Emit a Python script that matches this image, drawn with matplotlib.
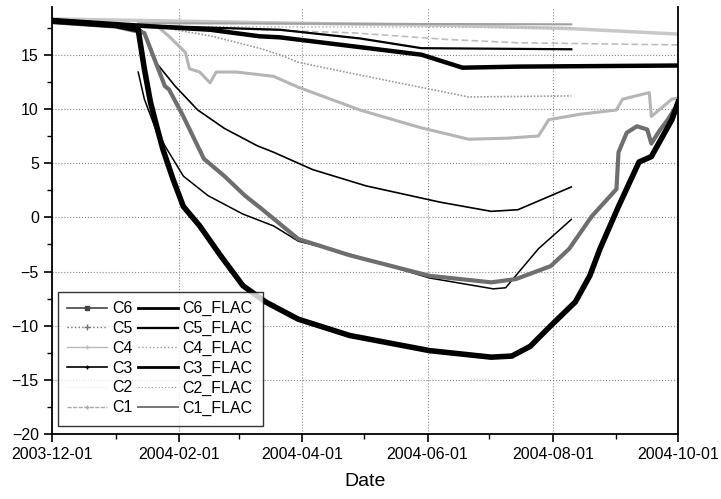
import numpy as np
import pandas as pd
import matplotlib
matplotlib.use("Agg")
import matplotlib.pyplot as plt
import matplotlib.dates as mdates
from matplotlib.lines import Line2D

plt.rcParams["font.family"] = ["Liberation Sans", "DejaVu Sans"]

# measured series (run to 2004-10-01)
c3_dates = ["2003-12-01", "2004-01-01", "2004-01-12", "2004-01-15", "2004-01-18",
            "2004-01-21", "2004-01-24", "2004-01-29", "2004-02-03", "2004-02-11",
            "2004-02-21", "2004-03-03", "2004-03-14", "2004-03-30", "2004-04-24",
            "2004-06-02", "2004-07-02", "2004-07-12", "2004-07-21", "2004-07-31",
            "2004-08-12", "2004-08-19", "2004-08-24", "2004-09-02", "2004-09-12",
            "2004-09-18", "2004-09-28", "2004-10-01"]
c3_vals = [18.1, 17.7, 17.3, 13.7, 10.6, 8.4, 6.3, 3.5, 1.0, -0.8,
           -3.5, -6.3, -7.8, -9.4, -10.9, -12.3, -12.9, -12.8, -11.9, -10.0,
           -7.8, -5.4, -2.9, 1.0, 5.1, 5.6, 9.0, 10.6]

c6_dates = ["2003-12-01", "2004-01-01", "2004-01-15", "2004-01-25", "2004-01-27",
            "2004-02-03", "2004-02-13", "2004-02-23", "2004-03-04", "2004-03-12",
            "2004-03-30", "2004-04-24", "2004-06-02", "2004-07-02", "2004-07-14",
            "2004-07-31", "2004-08-09", "2004-08-20", "2004-09-01", "2004-09-02",
            "2004-09-06", "2004-09-11", "2004-09-16", "2004-09-18", "2004-09-22",
            "2004-09-26", "2004-10-01"]
c6_vals = [18.0, 17.6, 17.0, 12.1, 11.8, 9.3, 5.4, 3.8, 2.0, 0.8,
           -2.0, -3.5, -5.4, -6.0, -5.7, -4.5, -2.9, 0.1, 2.6, 6.0,
           7.8, 8.4, 8.1, 6.8, 8.0, 9.0, 10.5]

c4_dates = ["2003-12-01", "2004-01-01", "2004-01-22", "2004-01-27", "2004-02-04",
            "2004-02-06", "2004-02-11", "2004-02-16", "2004-02-19", "2004-02-29",
            "2004-03-18", "2004-03-30", "2004-04-29", "2004-05-28", "2004-06-21",
            "2004-07-10", "2004-07-25", "2004-07-30", "2004-08-14", "2004-09-01",
            "2004-09-04", "2004-09-17", "2004-09-18", "2004-09-28", "2004-10-01"]
c4_vals = [18.0, 17.7, 17.5, 16.7, 15.2, 13.7, 13.4, 12.4, 13.4, 13.4,
           13.0, 12.0, 9.9, 8.3, 7.2, 7.3, 7.5, 9.0, 9.5, 9.9,
           10.9, 11.5, 9.3, 10.9, 11.0]

c5_dates = ["2003-12-01", "2004-01-11", "2004-02-16", "2004-03-11", "2004-03-21",
            "2004-05-29", "2004-06-18", "2004-07-15", "2004-10-01"]
c5_vals = [18.2, 17.7, 17.3, 16.7, 16.6, 15.0, 13.8, 13.9, 14.0]

c1_dates = ["2003-12-01", "2004-02-11", "2004-04-27", "2004-06-11", "2004-07-15", "2004-10-01"]
c1_vals = [18.0, 17.5, 17.0, 16.4, 16.1, 15.9]

c2_dates = ["2003-12-01", "2004-03-30", "2004-06-11", "2004-08-10", "2004-10-01"]
c2_vals = [18.3, 17.9, 17.7, 17.4, 16.9]

# FLAC series (end 2004-08-10)
c6f_dates = ["2004-01-12", "2004-01-15", "2004-01-20", "2004-01-25", "2004-02-03",
             "2004-02-15", "2004-03-03", "2004-03-18", "2004-03-30", "2004-04-24",
             "2004-06-02", "2004-07-03", "2004-07-09", "2004-07-25", "2004-08-10"]
c6f_vals = [13.4, 10.9, 8.4, 6.6, 3.8, 2.0, 0.3, -0.8, -2.2, -3.4,
            -5.6, -6.6, -6.5, -2.9, -0.2]

c3f_dates = ["2004-01-12", "2004-01-15", "2004-01-21", "2004-01-30", "2004-02-10",
             "2004-02-23", "2004-03-10", "2004-03-18", "2004-04-06", "2004-05-02",
             "2004-06-07", "2004-07-02", "2004-07-15", "2004-08-10"]
c3f_vals = [17.5, 17.0, 14.2, 12.1, 9.9, 8.2, 6.6, 6.0, 4.4, 2.9,
            1.4, 0.55, 0.7, 2.8]

c4f_dates = ["2004-01-30", "2004-02-17", "2004-03-11", "2004-03-21", "2004-03-30",
             "2004-04-27", "2004-06-21", "2004-08-10"]
c4f_vals = [17.3, 16.7, 15.6, 15.0, 14.3, 13.2, 11.1, 11.2]

c5f_dates = ["2004-01-12", "2004-03-21", "2004-04-29", "2004-05-29", "2004-08-10"]
c5f_vals = [17.7, 17.3, 16.5, 15.6, 15.5]

c1f_dates = ["2004-01-12", "2004-08-10"]
c1f_vals = [17.9, 17.8]

c2f_dates = ["2004-01-12", "2004-08-10"]
c2f_vals = [17.6, 17.5]

y_ticks = [-20, -15, -10, -5, 0, 5, 10, 15]
x_ticks = ["2003-12-01", "2004-02-01", "2004-04-01", "2004-06-01", "2004-08-01", "2004-10-01"]

fig = plt.figure(figsize=(7.21, 4.99), dpi=100)
ax = fig.add_axes([0.0721, 0.130, 0.8683, 0.856])

d = pd.to_datetime

# draw order: light ones first, thick dark on top
ax.plot(d(c2_dates), c2_vals, color="#c8c8c8", lw=2.5)
ax.plot(d(c1_dates), c1_vals, color="#bdbdbd", lw=1.2, ls=(0, (4, 2)))
ax.plot(d(c1f_dates), c1f_vals, color="#a0a0a0", lw=1.5)
ax.plot(d(c2f_dates), c2f_vals, color="#b0b0b0", lw=1.0, ls=":")
ax.plot(d(c4_dates), c4_vals, color="#b5b5b5", lw=2.2)
ax.plot(d(c4f_dates), c4f_vals, color="#9a9a9a", lw=1.2, ls=(0, (1, 1)))
ax.plot(d(c5f_dates), c5f_vals, color="black", lw=1.6)
ax.plot(d(c5_dates), c5_vals, color="black", lw=3.2)
ax.plot(d(c3f_dates), c3f_vals, color="black", lw=1.2)
ax.plot(d(c6f_dates), c6f_vals, color="black", lw=1.1)
ax.plot(d(c6_dates), c6_vals, color="#6e6e6e", lw=3.0)
ax.plot(d(c3_dates), c3_vals, color="black", lw=4.0)

ax.set_xlim(d("2003-12-01"), d("2004-10-01"))
ax.set_ylim(-20, 19.4)
ax.set_yticks(y_ticks)
ax.yaxis.set_minor_locator(plt.MultipleLocator(2.5))
ax.set_xticks(d(x_ticks))
ax.xaxis.set_major_formatter(mdates.DateFormatter("%Y-%m-%d"))
ax.xaxis.set_minor_locator(mdates.MonthLocator(bymonth=[1, 3, 5, 7, 9]))

ax.grid(True, which="major", color="#888888", ls=":", lw=0.8)
ax.tick_params(which="major", direction="out", length=6, width=1.2, labelsize=11.5)
ax.tick_params(which="minor", direction="out", length=3.5, width=1.0)
ax.spines["top"].set_visible(False)
for s in ["left", "bottom", "right"]:
    ax.spines[s].set_linewidth(1.3)
ax.set_xlabel("Date", fontsize=14, labelpad=8)

# legend samples as drawn in the original key
labels = ["C6", "C5", "C4", "C3", "C2", "C1",
          "C6_FLAC", "C5_FLAC", "C4_FLAC", "C3_FLAC", "C2_FLAC", "C1_FLAC"]
handles = [
    Line2D([], [], color="#444444", lw=1.2, marker="s", ms=3.5),
    Line2D([], [], color="#777777", lw=1.0, ls=":", marker="+", ms=4),
    Line2D([], [], color="#bbbbbb", lw=1.0, marker="+", ms=3),
    Line2D([], [], color="black", lw=1.2, marker="+", ms=3),
    Line2D([], [], color="#e8e8e8", lw=0.8, ls=":"),
    Line2D([], [], color="#aaaaaa", lw=1.0, ls=(0, (3, 1)), marker="+", ms=3),
    Line2D([], [], color="black", lw=2.0),
    Line2D([], [], color="black", lw=1.6),
    Line2D([], [], color="#999999", lw=1.0, ls=":"),
    Line2D([], [], color="black", lw=2.0),
    Line2D([], [], color="#999999", lw=0.8, ls=(0, (1, 2))),
    Line2D([], [], color="#777777", lw=1.4),
]
leg = ax.legend(handles, labels, ncol=2, loc="lower left", bbox_to_anchor=(0.009, 0.02),
                fontsize=11.5, frameon=True, fancybox=False, edgecolor="black",
                handlelength=2.5, handletextpad=0.3, columnspacing=0.35,
                labelspacing=0.3, borderpad=0.6, borderaxespad=0)
leg.get_frame().set_linewidth(1.0)

plt.savefig("out.png", dpi=100)
